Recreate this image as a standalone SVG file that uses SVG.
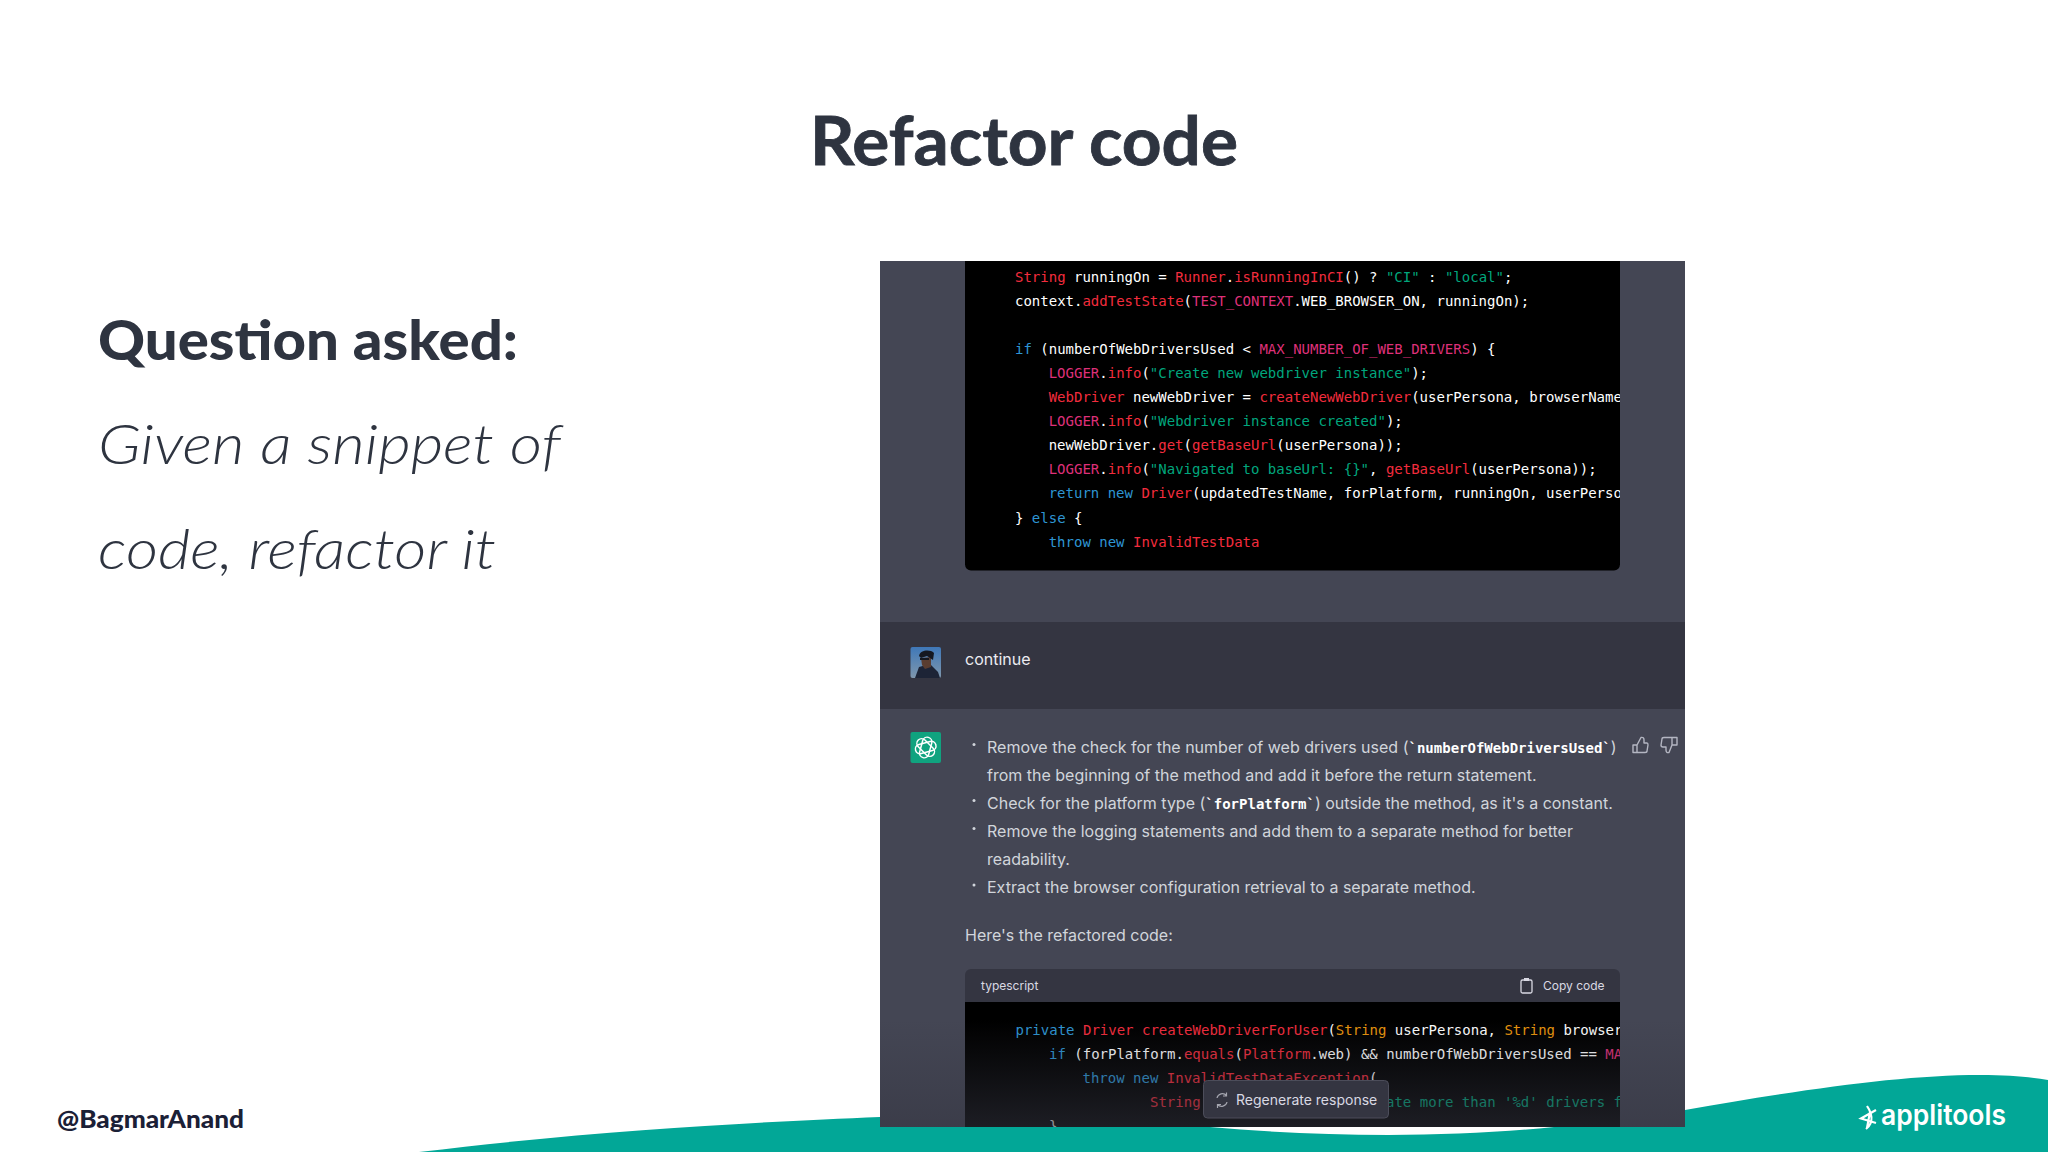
<svg xmlns="http://www.w3.org/2000/svg" width="2048" height="1152" viewBox="0 0 2048 1152">
<style>
.m{font-family:"DejaVu Sans Mono","Liberation Mono",monospace;font-size:14px;fill:#fff}
.r{fill:#f22c3d}.p{fill:#df3079}.g{fill:#00a67d}.b{fill:#2e95d3}.o{fill:#e9950c}
.t{font-family:Inter,"Noto Sans",sans-serif;font-size:16px;fill:#d1d5db}
.mb{font-family:"DejaVu Sans Mono",monospace;font-size:14px;font-weight:700;fill:#fff}
.h{font-family:Lato,"Open Sans",sans-serif;fill:#2e3440}
.ic{fill:none;stroke:#b4b6c2;stroke-width:1.4;stroke-linejoin:round;stroke-linecap:round}
</style>
<defs>
<clipPath id="c1"><rect x="965" y="261" width="655" height="309"/></clipPath>
<clipPath id="c2"><rect x="965" y="1002" width="655" height="125"/></clipPath>
<linearGradient id="fade" x1="0" y1="0" x2="0" y2="1">
<stop offset="0" stop-color="#343541" stop-opacity="0"/>
<stop offset="1" stop-color="#343541" stop-opacity="0.55"/>
</linearGradient>
<linearGradient id="av" x1="0" y1="0" x2="0" y2="1">
<stop offset="0" stop-color="#3f78b8"/>
<stop offset="1" stop-color="#7f97ad"/>
</linearGradient>
</defs>
<rect width="2048" height="1152" fill="#fff"/>
<g id="wave">
<path d="M419 1152C600 1130 760 1122 880 1117L1210 1127C1320 1137 1450 1138 1554 1127L1685 1110C1800 1090 1900 1075 1980 1075C2010 1075 2030 1077 2048 1080V1152Z" fill="#02a797"/>
</g>
<g id="title"><text class="h" x="810" y="165" font-size="67" font-weight="700" stroke="#2e3440" stroke-width="0.8" textLength="428" lengthAdjust="spacingAndGlyphs">Refactor code</text></g>
<g id="question">
<text class="h" x="98" y="360" font-size="56" font-weight="900" textLength="420" lengthAdjust="spacingAndGlyphs">Question asked:</text>
<text class="h" x="98" y="464" font-size="56" font-weight="300" font-style="italic" textLength="463" lengthAdjust="spacingAndGlyphs">Given a snippet of</text>
<text class="h" x="98" y="569" font-size="56" font-weight="300" font-style="italic" textLength="398" lengthAdjust="spacingAndGlyphs">code, refactor it</text>
</g>
<g id="handle"><text x="57" y="1128" font-family="Lato,sans-serif" font-size="25" font-weight="900" fill="#1b2036" textLength="187" lengthAdjust="spacingAndGlyphs">@BagmarAnand</text></g>
<g id="logo">
<path d="M1876 1110L1861 1118.500L1876 1123M1867 1106C1871 1112 1875 1122 1866 1129M1870 1112L1867 1128" fill="none" stroke="#fff" stroke-width="2.2"/>
<text x="1881" y="1125" font-family="Inter,sans-serif" font-size="29" font-weight="600" fill="#fff" textLength="125" lengthAdjust="spacingAndGlyphs">applitools</text>
</g>
<g id="panel">
<rect x="880" y="261" width="805" height="866" fill="#444654"/>
<rect x="880" y="622" width="805" height="87" fill="#343541"/>
</g>
<g id="code-block-1">
<path d="M965 261H1620V564.500a6 6 0 0 1-6 6H971a6 6 0 0 1-6-6Z" fill="#000"/>
<g clip-path="url(#c1)">
<text class="m" x="1015" y="282"><tspan class="r">String</tspan> runningOn = <tspan class="r">Runner</tspan>.<tspan class="r">isRunningInCI</tspan>() ? <tspan class="g">"CI"</tspan> : <tspan class="g">"local"</tspan>;</text>
<text class="m" x="1015" y="306">context.<tspan class="r">addTestState</tspan>(<tspan class="p">TEST_CONTEXT</tspan>.WEB_BROWSER_ON, runningOn);</text>
<text class="m" x="1015" y="354"><tspan class="b">if</tspan> (numberOfWebDriversUsed &lt; <tspan class="p">MAX_NUMBER_OF_WEB_DRIVERS</tspan>) {</text>
<text class="m" x="1048.7" y="378"><tspan class="p">LOGGER</tspan>.<tspan class="r">info</tspan>(<tspan class="g">"Create new webdriver instance"</tspan>);</text>
<text class="m" x="1048.7" y="402"><tspan class="r">WebDriver</tspan> newWebDriver = <tspan class="r">createNewWebDriver</tspan>(userPersona, browserName</text>
<text class="m" x="1048.7" y="426"><tspan class="p">LOGGER</tspan>.<tspan class="r">info</tspan>(<tspan class="g">"Webdriver instance created"</tspan>);</text>
<text class="m" x="1048.7" y="450">newWebDriver.<tspan class="r">get</tspan>(<tspan class="r">getBaseUrl</tspan>(userPersona));</text>
<text class="m" x="1048.7" y="474"><tspan class="p">LOGGER</tspan>.<tspan class="r">info</tspan>(<tspan class="g">"Navigated to baseUrl: {}"</tspan>, <tspan class="r">getBaseUrl</tspan>(userPersona));</text>
<text class="m" x="1048.7" y="498"><tspan class="b">return new</tspan> <tspan class="r">Driver</tspan>(updatedTestName, forPlatform, runningOn, userPerso</text>
<text class="m" x="1015" y="522.500">} <tspan class="b">else</tspan> {</text>
<text class="m" x="1048.7" y="546.500"><tspan class="b">throw new</tspan> <tspan class="r">InvalidTestData</tspan></text>
</g>
</g>
<g id="user-message">
<rect x="910.500" y="647" width="30.500" height="31" rx="2" fill="url(#av)"/>
<path d="M915 678L919 667L930 664L938 672L940 678Z" fill="#1d2436"/>
<path d="M921 658L931 657L931 667L925 669L922 665Z" fill="#5a3d30"/>
<path d="M919 656C920 650 930 649 934 653L933 660L927 656L921 658Z" fill="#151820"/>
<rect x="920" y="658" width="9" height="2" fill="#15181f"/>
<text class="t" x="965" y="665" style="fill:#ececf1">continue</text>
</g>
<g id="assistant-message">
<rect x="910.500" y="732" width="30.500" height="31" rx="2" fill="#10a37f"/>
<g fill="none" stroke="#fff" stroke-width="1.5" transform="rotate(15 925.700 747.500)">
<rect x="921" y="737" width="9.400" height="21" rx="4.700"/>
<rect x="921" y="737" width="9.400" height="21" rx="4.700" transform="rotate(60 925.700 747.500)"/>
<rect x="921" y="737" width="9.400" height="21" rx="4.700" transform="rotate(120 925.700 747.500)"/>
</g>
<g fill="#d1d5db">
<circle cx="974" cy="744.500" r="1.500"/><circle cx="974" cy="800.500" r="1.500"/><circle cx="974" cy="828.500" r="1.500"/><circle cx="974" cy="885" r="1.500"/>
</g>
<text class="t" x="987" y="752.500">Remove the check for the number of web drivers used (<tspan class="mb">`numberOfWebDriversUsed`</tspan>)</text>
<text class="t" x="987" y="780.500">from the beginning of the method and add it before the return statement.</text>
<text class="t" x="987" y="808.500">Check for the platform type (<tspan class="mb">`forPlatform`</tspan>) outside the method, as it's a constant.</text>
<text class="t" x="987" y="836.500">Remove the logging statements and add them to a separate method for better</text>
<text class="t" x="987" y="865">readability.</text>
<text class="t" x="987" y="893">Extract the browser configuration retrieval to a separate method.</text>
<text class="t" x="965" y="941">Here's the refactored code:</text>
<g class="ic">
<path d="M1637 745H1633V752.500H1637ZM1637 745L1641 737.500C1643 737 1644 738 1644 740V743H1647C1648 743 1648 744 1648 745L1647 751C1647 752 1646 752.500 1645 752.500H1637"/>
<path d="M1672 745H1677V737.500H1672ZM1672 745L1669 752.500C1667 753 1666 752 1666 750V747H1663C1662 747 1661 746 1661 745L1662 739C1662 738 1663 737.500 1664 737.500H1672"/>
</g>
</g>
<g id="code-block-2">
<path d="M965 1002V975a6 6 0 0 1 6-6H1614a6 6 0 0 1 6 6V1002Z" fill="#343541"/>
<rect x="965" y="1002" width="655" height="125" fill="#000"/>
<text x="981" y="990" font-family="Inter,sans-serif" font-size="12" fill="#d9d9e3">typescript</text>
<rect x="1521" y="980" width="11" height="13" rx="1.500" fill="none" stroke="#d9d9e3" stroke-width="1.300"/>
<rect x="1524" y="978" width="5" height="3" fill="#d9d9e3"/>
<text x="1543" y="990" font-family="Inter,sans-serif" font-size="12" fill="#d9d9e3">Copy code</text>
<g clip-path="url(#c2)">
<text class="m" x="1015.500" y="1035"><tspan class="b">private</tspan> <tspan class="r">Driver</tspan> <tspan class="r">createWebDriverForUser</tspan>(<tspan class="o">String</tspan> userPersona, <tspan class="o">String</tspan> browser</text>
<text class="m" x="1049" y="1059"><tspan class="b">if</tspan> (forPlatform.<tspan class="r">equals</tspan>(<tspan class="r">Platform</tspan>.web) &amp;&amp; numberOfWebDriversUsed == <tspan class="p">MA</tspan></text>
<text class="m" x="1082.500" y="1083"><tspan class="b">throw new</tspan> <tspan class="r">InvalidTestDataException</tspan>(</text>
<text class="m r" x="1150" y="1107">String</text>
<text class="m g" x="1386" y="1107">ate more than '%d' drivers f</text>
<text class="m" x="1049" y="1131">}</text>
</g>
<rect x="880" y="1020" width="805" height="107" fill="url(#fade)"/>
</g>
<g id="regenerate">
<rect x="1203.500" y="1080.500" width="185" height="37.500" rx="4" fill="#343541" stroke="#4c4d5a"/>
<path d="M1217 1098a5.500 5.500 0 0 1 9.500-2.500M1227 1102a5.500 5.500 0 0 1-9.500 2.500M1226.500 1092.500V1096H1223M1217.500 1108V1104.500H1221" fill="none" stroke="#a5a6b0" stroke-width="1.200"/>
<text x="1236" y="1105" font-family="Inter,sans-serif" font-size="14" fill="#d9d9e3">Regenerate response</text>
</g>
</svg>
